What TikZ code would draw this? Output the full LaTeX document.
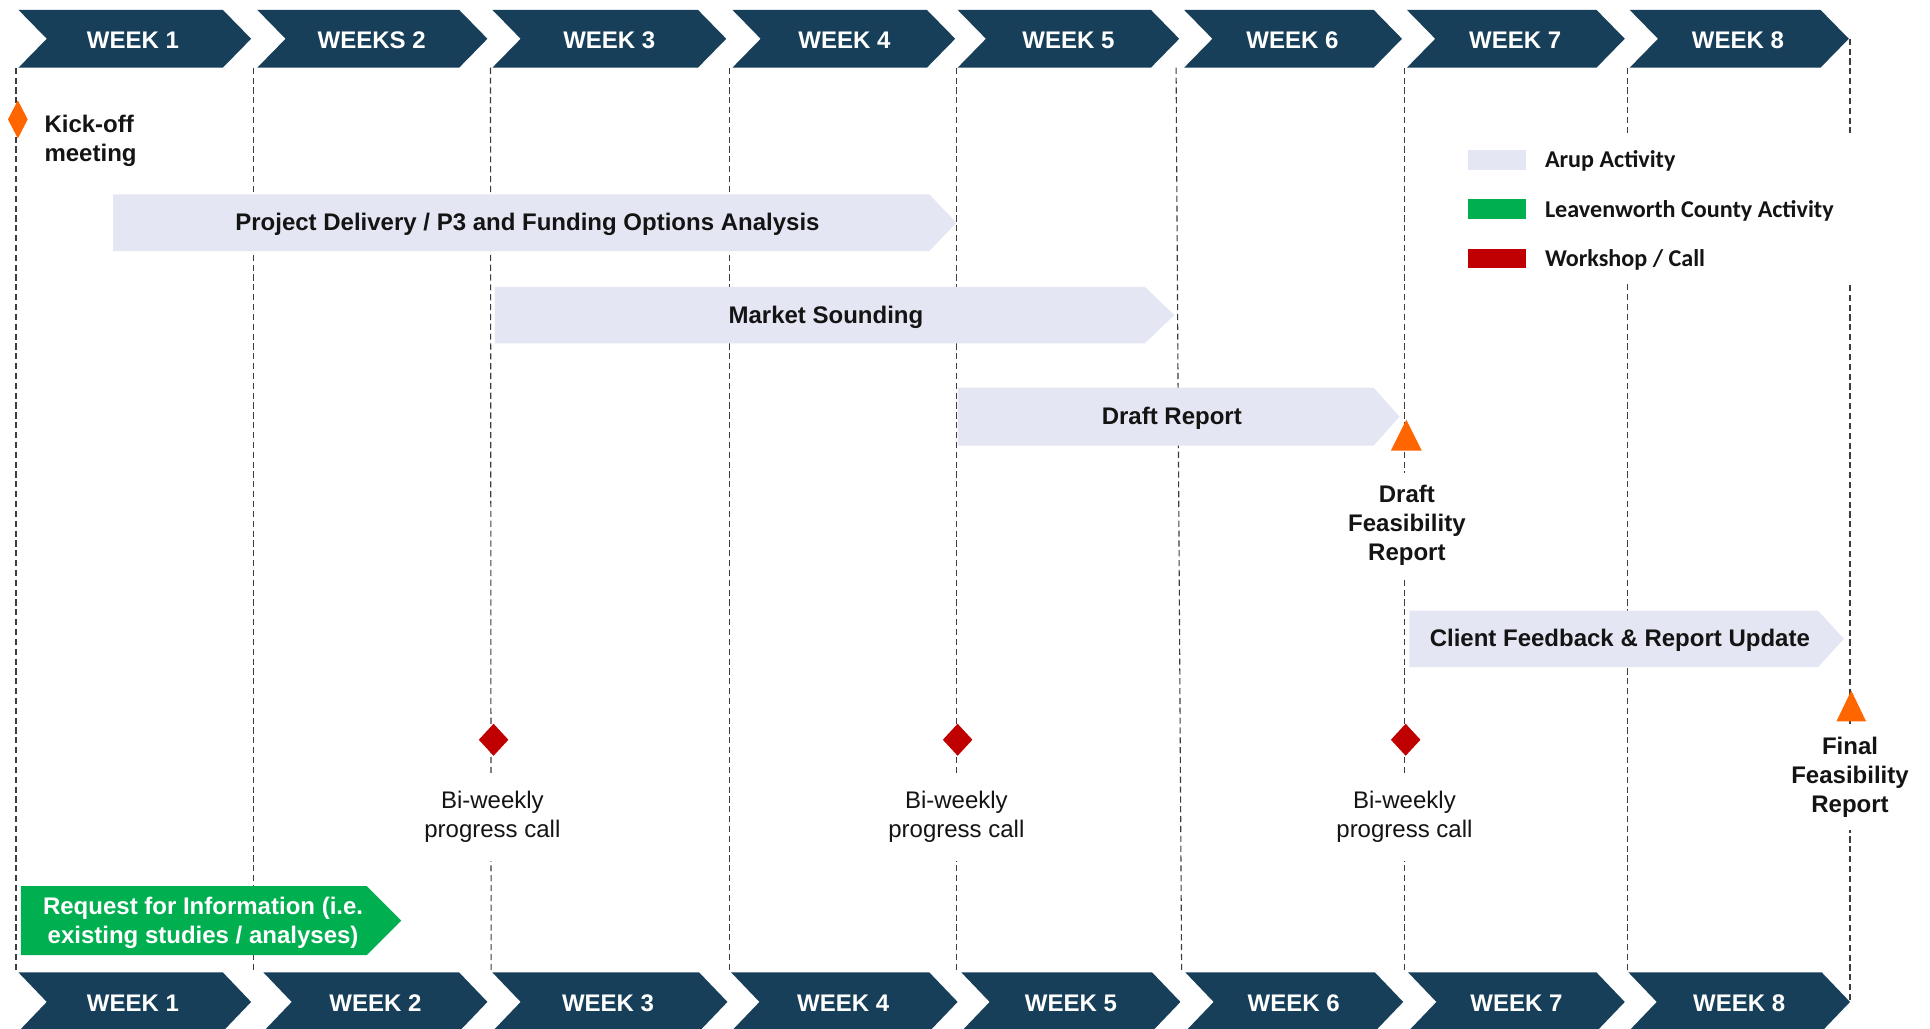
\documentclass[tikz,border=0pt]{standalone}
\usepackage{fontspec}
\setmainfont{Liberation Sans}
\newfontfamily\legendfont{Carlito}
\definecolor{navy}{RGB}{23,63,89}
\definecolor{barfill}{RGB}{228,231,243}
\definecolor{grn}{RGB}{0,176,80}
\definecolor{redd}{RGB}{192,0,0}
\definecolor{orng}{RGB}{255,102,0}
\definecolor{txt}{RGB}{20,20,20}
\definecolor{dashcol}{RGB}{60,60,60}
\begin{document}
\begin{tikzpicture}[x=1pt,y=-1pt,
  wk/.style={font=\bfseries\fontsize{19.5}{23.5}\selectfont, text=white, anchor=base, inner sep=0pt},
  lbl/.style={font=\bfseries\fontsize{19.5}{23.5}\selectfont, text=txt, anchor=base, inner sep=0pt},
  ms/.style={font=\bfseries\fontsize{19.5}{23.5}\selectfont, text=txt, align=center, fill=white, inner xsep=4pt, inner ysep=10pt, outer sep=0pt, anchor=north},
  callbox/.style={font=\fontsize{19.5}{23.5}\selectfont, text=txt, align=center, fill=white, inner xsep=4pt, inner ysep=15pt, outer sep=0pt, anchor=north},
  leg/.style={font=\legendfont\bfseries\fontsize{19.6}{23.5}\selectfont, text=txt, anchor=base west, inner sep=0pt},
  dashline/.style={draw=dashcol, line width=0.9pt, dash pattern=on 5pt off 3pt},
]
\useasboundingbox (0,0) rectangle (1568,835.2);
\clip (0,0) rectangle (1568,835.2);
\fill[white] (0,0) rectangle (1568,835.2);

% dashed week boundaries
\coordinate (l0t) at (13,55);     \coordinate (l0b) at (13,790);
\coordinate (l1t) at (206,55);    \coordinate (l1b) at (206,790);
\coordinate (l2t) at (398.5,55);  \coordinate (l2b) at (399,790);
\coordinate (l3t) at (592.5,55);  \coordinate (l3b) at (592.5,790);
\coordinate (l4t) at (777,55);    \coordinate (l4b) at (777,790);
\coordinate (l5t) at (955.5,55);  \coordinate (l5b) at (960,790);
\coordinate (l6t) at (1141,55);   \coordinate (l6b) at (1141,790);
\coordinate (l7t) at (1322,55);   \coordinate (l7b) at (1322,790);
\coordinate (l8t) at (1503,31.5); \coordinate (l8b) at (1503,814);
\foreach \k in {0,...,8}{\draw[dashline] (l\k t) -- (l\k b);}

% legend (white panel)
\fill[white] (1180,108) rectangle (1512,230);
\fill[barfill] (1193,122) rectangle (1240,138);
\fill[grn] (1193,162) rectangle (1240,178);
\fill[redd] (1193,202) rectangle (1240,218);
\node[leg] (legA) at (1255,136.3) {Arup Activity};
\node[leg] (legB) at (1255,176.3) {Leavenworth County Activity};
\node[leg] (legC) at (1255,216.3) {Workshop / Call};

% activity bars
\fill[barfill] (92,158) -- (755,158) -- (777,181) -- (755,204) -- (92,204) -- cycle;
\node[lbl] (p3) at (428.5,187.2) {Project Delivery / P3 and Funding Options Analysis};
\fill[barfill] (402,233) -- (930,233) -- (954,256) -- (930,279) -- (402,279) -- cycle;
\node[lbl] (market) at (671,263.2) {Market Sounding};
\fill[barfill] (778,315) -- (1116,315) -- (1137,338.5) -- (1116,362) -- (778,362) -- cycle;
\node[lbl] (draft) at (952,345.2) {Draft Report};
\fill[barfill] (1145,496) -- (1477,496) -- (1498,519) -- (1477,542) -- (1145,542) -- cycle;
\node[lbl] (client) at (1316,525.2) {Client Feedback \& Report Update};
\fill[grn] (17,720) -- (298,720) -- (326,748) -- (298,776) -- (17,776) -- cycle;
\node[font=\bfseries\fontsize{19.5}{23.5}\selectfont, text=white, align=center, inner sep=0pt, anchor=north] (rfi) at (165,729) {Request for Information (i.e.\\existing studies / analyses)};

% milestones
\fill[orng] (14.5,81.5) -- (22.5,97) -- (14.5,112.5) -- (6.5,97) -- cycle;
\node[font=\bfseries\fontsize{19.5}{23.5}\selectfont, text=txt, align=left, inner sep=0pt, anchor=north west] (kick) at (36,93) {Kick-off\\meeting};

\fill[orng] (1142.5,341) -- (1155,366) -- (1130,366) -- cycle;
\node[ms] (dfr) at (1143,384) {Draft\\Feasibility\\Report};

\fill[orng] (1504,561) -- (1516,586) -- (1492,586) -- cycle;
\node[ms] (ffr) at (1503,589) {Final\\Feasibility\\Report};

\foreach \x/\nm in {401/c1,778/c2,1142/c3}{
  \fill[redd] (\x,588) -- ({\x+12},601) -- (\x,614) -- ({\x-12},601) -- cycle;
  \node[callbox] (\nm) at ({\x-1},628) {Bi-weekly\\progress call};
}

% top chevrons
\foreach \l/\t/\lab/\cx [count=\i] in {15/204/WEEK 1/108, 209/396/WEEKS 2/302, 400/590/WEEK 3/495, 595/776/WEEK 4/686, 778/958/WEEK 5/868, 962/1139/WEEK 6/1050, 1143/1320/WEEK 7/1231, 1324/1502/WEEK 8/1412}{
  \fill[navy] (\l,8) -- ({\t-23},8) -- (\t,31.5) -- ({\t-23},55) -- (\l,55) -- ({\l+23},31.5) -- cycle;
  \node[wk] (top\i) at (\cx,39) {\lab};
}
% bottom chevrons
\foreach \l/\t/\lab/\cx [count=\i] in {15/204/WEEK 1/108, 214/396/WEEK 2/305, 400/591/WEEK 3/494, 594/778/WEEK 4/685, 781/959/WEEK 5/870, 963/1140/WEEK 6/1051, 1144/1320/WEEK 7/1232, 1323/1503/WEEK 8/1413}{
  \fill[navy] (\l,790) -- ({\t-23},790) -- (\t,814) -- ({\t-23},838) -- (\l,838) -- ({\l+23},814) -- cycle;
  \node[wk] (bot\i) at (\cx,822) {\lab};
}
\end{tikzpicture}
\end{document}
